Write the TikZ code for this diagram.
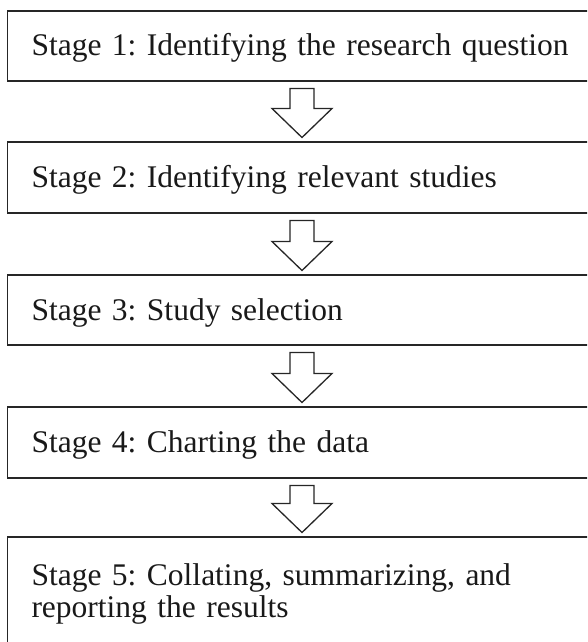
\documentclass[tikz,border=0pt]{standalone}
\usepackage{fontspec}
\setmainfont{Liberation Serif}
\usetikzlibrary{calc}
\newcommand{\stagefont}{\fontsize{31.5}{32}\selectfont\frenchspacing\hyphenpenalty=10000\relax}
\tikzset{
  stagebox/.style={draw=black!85, line width=1.8pt, rectangle, anchor=north west,
    outer sep=0pt, inner xsep=24pt, inner ysep=4pt, minimum height=70pt,
    text width=541pt, align=left, text height=26pt, text depth=6pt,
    font=\stagefont, text=black!90},
  blockarr/.style={draw=black!85, line width=1.3pt, fill=white, line join=miter}
}
\newcommand{\stagearrow}[2]{%
  \draw[blockarr] let \p1=(#1.south), \p2=(#2.north) in
    (\x1-12pt,\y1-7.5pt) -- (\x1+12pt,\y1-7.5pt) -- (\x1+12pt,\y2+33.5pt)
    -- (\x1+30pt,\y2+33.5pt) -- (\x1,\y2+4.5pt) -- (\x1-30pt,\y2+33.5pt)
    -- (\x1-12pt,\y2+33.5pt) -- cycle;}
\begin{document}
\begin{tikzpicture}[x=1pt,y=-1pt]
  \useasboundingbox (0,0) rectangle (587,642);
  \clip (0,0) rectangle (587,642);
  \node[stagebox] (s1) at (7.5,11) {\mbox{Stage 1: Identifying the research question}};
  \node[stagebox, minimum height=71pt] (s2) at (7.5,142) {Stage 2: Identifying relevant studies};
  \node[stagebox] (s3) at (7.5,275) {Stage 3: Study selection};
  \node[stagebox, minimum height=71pt] (s4) at (7.5,407) {Stage 4: Charting the data};
  \node[stagebox, inner ysep=22pt, text height=, text depth=] (s5) at (7.5,537)
    {\rule{0pt}{26pt}Stage 5: Collating, summarizing, and\\reporting the results\rule[-40pt]{0pt}{40pt}};
  \stagearrow{s1}{s2}
  \stagearrow{s2}{s3}
  \stagearrow{s3}{s4}
  \stagearrow{s4}{s5}
\end{tikzpicture}
\end{document}
